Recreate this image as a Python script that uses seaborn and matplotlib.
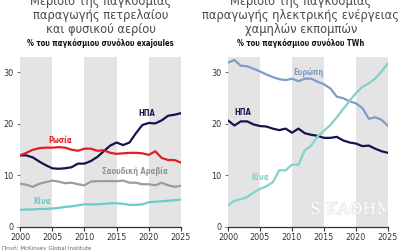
import matplotlib
matplotlib.use("Agg")
import matplotlib.pyplot as plt
import matplotlib.patheffects as pe
import seaborn as sns
import pandas as pd

years = list(range(2000, 2026))

# Left chart: share of global oil & gas production (% of exajoules)
oil_usa = [13.9, 13.9, 13.5, 12.7, 12.0, 11.4, 11.3, 11.4, 11.6, 12.3, 12.3, 12.8, 13.6,
           14.7, 15.8, 16.4, 15.9, 16.4, 18.2, 19.8, 20.2, 20.1, 20.7, 21.6, 21.8, 22.1]
oil_russia = [13.9, 14.4, 15.0, 15.3, 15.4, 15.4, 15.5, 15.4, 15.0, 14.8, 15.2, 15.2, 14.8,
              14.9, 14.4, 14.2, 14.3, 14.4, 14.4, 14.3, 14.0, 14.7, 13.4, 13.0, 13.0, 12.5]
oil_saudi = [8.4, 8.2, 7.8, 8.4, 8.7, 9.0, 8.8, 8.5, 8.6, 8.3, 8.1, 8.8, 8.9,
             8.9, 8.9, 8.9, 9.0, 8.6, 8.6, 8.3, 8.3, 8.1, 8.6, 8.1, 7.8, 8.0]
oil_china = [3.3, 3.4, 3.4, 3.5, 3.5, 3.6, 3.7, 3.9, 4.0, 4.2, 4.4, 4.4, 4.4,
             4.5, 4.6, 4.6, 4.5, 4.3, 4.3, 4.4, 4.8, 4.9, 5.0, 5.1, 5.2, 5.3]

# Right chart: share of global low-emission electricity (% of TWh)
el_europe = [31.9, 32.4, 31.3, 31.2, 30.7, 30.2, 29.6, 29.1, 28.7, 28.5, 28.8, 28.3, 28.8,
             28.8, 28.2, 27.7, 26.9, 25.3, 25.0, 24.4, 24.0, 23.1, 21.0, 21.3, 20.8, 19.6]
el_usa = [20.7, 19.7, 20.5, 20.5, 19.9, 19.6, 19.5, 19.1, 18.8, 19.1, 18.3, 19.1, 18.2,
          17.9, 17.7, 17.3, 17.3, 17.5, 16.8, 16.4, 16.2, 15.7, 15.8, 15.2, 14.7, 14.4]
el_china = [4.2, 5.1, 5.4, 5.8, 6.7, 7.4, 7.9, 8.7, 11.0, 11.0, 12.1, 12.1, 14.9,
            15.8, 17.6, 18.7, 19.8, 21.3, 22.9, 24.5, 26.0, 27.2, 27.9, 28.8, 30.2, 31.8]

left_names = ["ΗΠΑ", "Ρωσία", "Σαουδική Αραβία", "Κίνα"]
right_names = ["Ευρώπη", "ΗΠΑ", "Κίνα"]
shaded_ranges = [(2000, 2005), (2010, 2015), (2020, 2025)]
x_ticks = [2000, 2005, 2010, 2015, 2020, 2025]
y_ticks = [0, 10, 20, 30]

left_title = ["Μερίδιο της παγκόσμιας", "παραγωγής πετρελαίου", "και φυσικού αερίου"]
right_title = ["Μερίδιο της παγκόσμιας", "παραγωγής ηλεκτρικής ενέργειας", "χαμηλών εκπομπών"]
left_sub = "% του παγκόσμιου συνόλου exajoules"
right_sub = "% του παγκόσμιου συνόλου TWh"
source = "Πηγή: McKinsey Global Institute"
watermark = "S ΚΑΘΗΜΕΡΙΝΗ"

sns.set_theme(style="white")
plt.rcParams["font.family"] = ["DejaVu Sans"]
plt.rcParams["font.stretch"] = "condensed"

left_df = pd.DataFrame({
    "year": years * 4,
    "value": oil_usa + oil_russia + oil_saudi + oil_china,
    "country": sum([[n] * len(years) for n in left_names], []),
})
right_df = pd.DataFrame({
    "year": years * 3,
    "value": el_europe + el_usa + el_china,
    "country": sum([[n] * len(years) for n in right_names], []),
})

navy = "#15134f"
left_pal = {"ΗΠΑ": navy, "Ρωσία": "#e11d27", "Σαουδική Αραβία": "#9c9c9c", "Κίνα": "#6ccaca"}
right_pal = {"Ευρώπη": "#7d9dc9", "ΗΠΑ": navy, "Κίνα": "#80d2cc"}

fig = plt.figure(figsize=(4, 2.5), dpi=100)
axL = fig.add_axes([0.05, 0.092, 0.4025, 0.68])
axR = fig.add_axes([0.57, 0.092, 0.40, 0.68])

for ax, df, pal in [(axL, left_df, left_pal), (axR, right_df, right_pal)]:
    for a, b in shaded_ranges:
        ax.axvspan(a, b, color="#e4e4e4", lw=0, zorder=0)
    sns.lineplot(data=df, x="year", y="value", hue="country", palette=pal,
                 linewidth=1.6, legend=False, ax=ax, zorder=3)
    ax.set_xlim(2000, 2025)
    ax.set_ylim(0, 33)
    ax.set_xticks(x_ticks)
    ax.set_yticks(y_ticks)
    ax.set_xlabel("")
    ax.set_ylabel("")
    for s in ["top", "right", "left"]:
        ax.spines[s].set_visible(False)
    ax.spines["bottom"].set_color("#333333")
    ax.spines["bottom"].set_linewidth(0.9)
    ax.tick_params(axis="x", length=3, width=0.8, color="#333333", pad=1.5,
                   labelsize=6.5, labelcolor="#333333", bottom=True)
    ax.tick_params(axis="y", length=2.5, width=0.6, color="#555555", pad=2,
                   labelsize=6.5, labelcolor="#333333", left=True)
    ax.set_facecolor("white")

# Series labels
lab = dict(fontsize=5.5, fontweight="bold", ha="center", va="center", zorder=5)
axL.text(2019.7, 22.1, "ΗΠΑ", color=navy, **lab)
axL.text(2006.2, 16.7, "Ρωσία", color="#e11d27", **lab)
axL.text(2017.9, 10.9, "Σαουδική Αραβία", color="#939393", **lab)
axL.text(2003.5, 4.9, "Κίνα", color="#6ccaca", **lab)
axR.text(2002.3, 22.3, "ΗΠΑ", color=navy, **lab)
axR.text(2012.5, 30.0, "Ευρώπη", color="#7d9dc9", **lab)
axR.text(2005.0, 9.6, "Κίνα", color="#80d2cc", **lab)

# Watermark
axR.text(2012.8, 3.4, watermark, fontsize=11.5, family="DejaVu Serif", fontstretch="normal",
         color="white", alpha=0.95, ha="left", va="center", zorder=2, clip_on=True,
         path_effects=[pe.withStroke(linewidth=0.8, foreground="#dcdcdc")])

# Titles
line_y = [0.996, 0.94, 0.884]
for cx, lines, sub in [(0.252, left_title, left_sub), (0.752, right_title, right_sub)]:
    for ly, line in zip(line_y, lines):
        fig.text(cx, ly, line, ha="center", va="center", fontsize=8.3, color="#4a4a4a",
                 fontstretch="normal")
    fig.text(cx, 0.828, sub, ha="center", va="center", fontsize=5.5, fontweight="bold",
             color="#111111")

fig.text(0.005, -0.004, source, ha="left", va="bottom", fontsize=4.5, color="#666666")

fig.savefig("out.png", dpi=100)
